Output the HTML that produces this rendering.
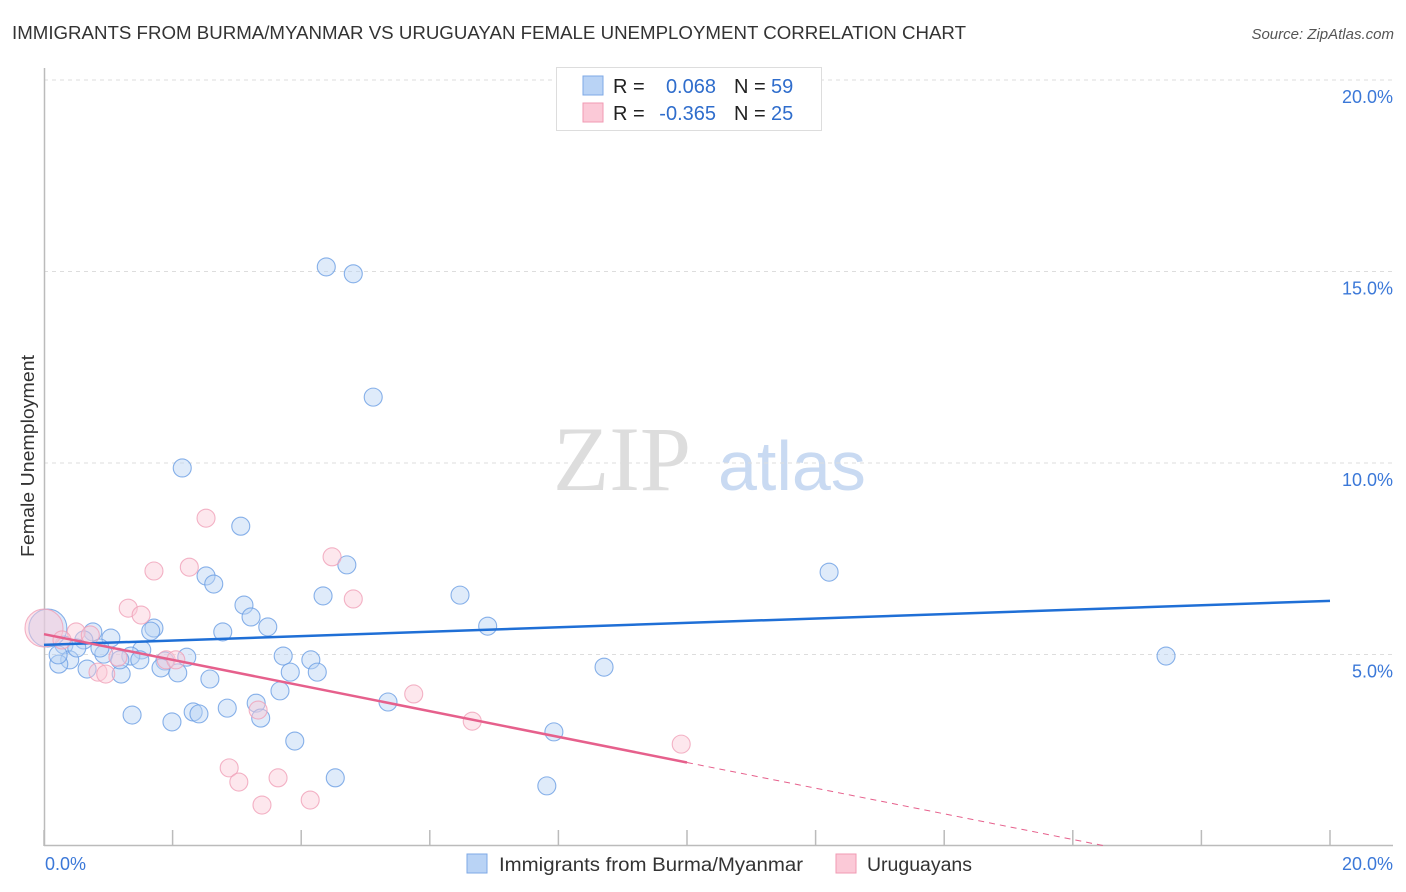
<!DOCTYPE html>
<html><head><meta charset="utf-8"><style>
body{margin:0;background:#fff;font-family:"Liberation Sans",sans-serif;}
#wrap{position:relative;width:1406px;height:892px;overflow:hidden;}
</style></head><body>
<div id="wrap">
<svg id="svg" width="1406" height="892" xmlns="http://www.w3.org/2000/svg" font-family="Liberation Sans, sans-serif">
<text x="12" y="39" font-size="18" fill="#333" textLength="954" lengthAdjust="spacingAndGlyphs">IMMIGRANTS FROM BURMA/MYANMAR VS URUGUAYAN FEMALE UNEMPLOYMENT CORRELATION CHART</text>
<text x="1394" y="39" font-size="15" fill="#555" font-style="italic" text-anchor="end">Source: ZipAtlas.com</text>
<text x="34" y="456" font-size="18" fill="#333" text-anchor="middle" textLength="202" lengthAdjust="spacingAndGlyphs" transform="rotate(-90 34 456)">Female Unemployment</text>
<g>
<text x="553" y="490" font-size="92" fill="#ddd" font-family="Liberation Serif, serif">ZIP</text>
<text x="718" y="490" font-size="70" fill="#c9daf2">atlas</text>
</g>
<g id="grid"></g>
<g id="axes"></g>
<g id="marks"></g>
<g>
<rect x="556.5" y="67.5" width="265" height="63" fill="#fff" stroke="#ddd"/>
<rect x="583" y="76" width="20" height="19" fill="#b9d3f5" stroke="#7ea8e6"/>
<rect x="583" y="103" width="20" height="19" fill="#fbc9d7" stroke="#f09ab3"/>
<text x="613" y="93" font-size="20" fill="#222">R =</text>
<text x="716" y="93" font-size="20" fill="#2f6dcc" text-anchor="end">0.068</text>
<text x="734" y="93" font-size="20" fill="#222">N =</text>
<text x="771" y="93" font-size="20" fill="#2f6dcc">59</text>
<text x="613" y="120" font-size="20" fill="#222">R =</text>
<text x="716" y="120" font-size="20" fill="#2f6dcc" text-anchor="end">-0.365</text>
<text x="734" y="120" font-size="20" fill="#222">N =</text>
<text x="771" y="120" font-size="20" fill="#2f6dcc">25</text>
</g>
<g>
<rect x="467" y="854" width="20" height="19" fill="#b9d3f5" stroke="#7ea8e6"/>
<text x="499" y="871" font-size="19" fill="#333" textLength="304" lengthAdjust="spacingAndGlyphs">Immigrants from Burma/Myanmar</text>
<rect x="836" y="854" width="20" height="19" fill="#fbc9d7" stroke="#f09ab3"/>
<text x="867" y="871" font-size="19" fill="#333" textLength="105" lengthAdjust="spacingAndGlyphs">Uruguayans</text>
</g>
</svg>
</div>
<script>
const yTicks=[5,10,15,20];
const yTickLabels=["5.0%","10.0%","15.0%","20.0%"];
const xTickLabels=["0.0%","20.0%"];
const blueX=[4.39,4.81,5.12,2.15,3.06,4.71,12.21,2.52,2.64,4.34,6.47,3.11,3.22,1.71,1.66,3.48,6.90,2.78,0.76,1.04,0.62,0.31,1.52,0.93,1.35,2.22,3.72,4.15,1.88,0.40,0.23,0.67,1.82,2.08,1.20,3.83,4.25,8.71,17.45,2.58,3.67,5.35,3.30,2.85,2.32,2.41,1.37,1.99,3.37,3.90,7.93,4.53,7.82,0.06,0.22,1.18,1.49,0.87,0.51];
const blueY=[15.12,14.94,11.72,9.87,8.35,7.34,7.15,7.05,6.84,6.53,6.55,6.29,5.98,5.69,5.61,5.72,5.74,5.59,5.59,5.43,5.38,5.25,5.12,5.01,4.96,4.93,4.96,4.86,4.83,4.86,4.75,4.62,4.65,4.52,4.49,4.54,4.54,4.67,4.96,4.36,4.05,3.76,3.73,3.60,3.50,3.45,3.42,3.24,3.34,2.74,2.98,1.78,1.57,5.69,4.99,4.86,4.86,5.17,5.17];
const pinkX=[0.0,0.50,0.28,0.84,0.96,1.15,1.31,1.51,1.71,2.26,2.52,1.90,2.05,4.48,4.81,5.75,6.66,9.91,2.88,3.03,3.64,3.39,4.14,3.33,0.72];
const pinkY=[5.69,5.59,5.38,4.54,4.49,4.93,6.21,6.03,7.18,7.28,8.56,4.86,4.86,7.55,6.45,3.97,3.26,2.66,2.04,1.67,1.78,1.07,1.20,3.55,5.51];
const blueTrend=[5.25,6.40];
const pinkTrend=[5.53,-0.335];
const X0=44,X1=1330,Y0=846,PXY=38.3;
const sx=v=>X0+v*(X1-X0)/20;
const sy=v=>Y0-v*PXY;
const NS="http://www.w3.org/2000/svg";
function mk(tag,attrs,parent){const e=document.createElementNS(NS,tag);for(const k in attrs)e.setAttribute(k,attrs[k]);parent.appendChild(e);return e;}
const grid=document.getElementById('grid'),axes=document.getElementById('axes'),marks=document.getElementById('marks');
yTicks.forEach((t,i)=>{
  const l=mk('line',{x1:44,x2:1393,y1:sy(t),y2:sy(t),stroke:'#ddd','stroke-dasharray':'4,4'},grid);
  
  
  const tx=mk('text',{x:1393,y:sy(t)+23,'font-size':18,fill:'#3b78d8','text-anchor':'end'},axes);
  tx.textContent=yTickLabels[i];
  
  
});
const al=mk('line',{x1:44.5,x2:44.5,y1:68,y2:846,stroke:'#bbb','stroke-width':1.5},axes);


const bl=mk('line',{x1:44,x2:1393,y1:845.5,y2:845.5,stroke:'#bbb','stroke-width':1.5},axes);


for(let i=0;i<=10;i++){
  const t=mk('line',{x1:sx(i*2),x2:sx(i*2),y1:830,y2:846,stroke:'#bbb','stroke-width':1.5},axes);
  
  
}
[[0,'start',45],[20,'end',1393]].forEach((p,i)=>{
  const tx=mk('text',{x:p[2],y:870,'font-size':18,fill:'#3b78d8','text-anchor':p[1]},axes);
  tx.textContent=xTickLabels[i];
  
  
});
function dots(xs,ys,fill,stroke,name){
  xs.forEach((x,i)=>{
    const big=(x<0.1&&Math.abs(ys[i]-5.69)<0.05);
    const c=mk('circle',{cx:sx(x),cy:sy(ys[i]),r:big?19:9,fill:fill,'fill-opacity':big?0.5:0.45,stroke:stroke,'stroke-opacity':0.8,'stroke-width':1.1},marks);
    
    
  });
}
dots(blueX,blueY,'#b9d3f5','#6a9de3','point-burma');
dots(pinkX,pinkY,'#fbc9d7','#f0a0b8','point-uruguayans');
const bt=mk('line',{x1:sx(0),y1:sy(blueTrend[0]),x2:sx(20),y2:sy(blueTrend[1]),stroke:'#1f6fd6','stroke-width':2.5},marks);


const pe=10;
const pt=mk('line',{x1:sx(0),y1:sy(pinkTrend[0]),x2:sx(pe),y2:sy(pinkTrend[0]+pinkTrend[1]*pe),stroke:'#e6608c','stroke-width':2.5},marks);


const pz=-pinkTrend[0]/pinkTrend[1];
const pd=mk('line',{x1:sx(pe),y1:sy(pinkTrend[0]+pinkTrend[1]*pe),x2:sx(pz),y2:sy(0),stroke:'#e6608c','stroke-width':1,'stroke-dasharray':'6,5'},marks);


</script>
</body></html>
